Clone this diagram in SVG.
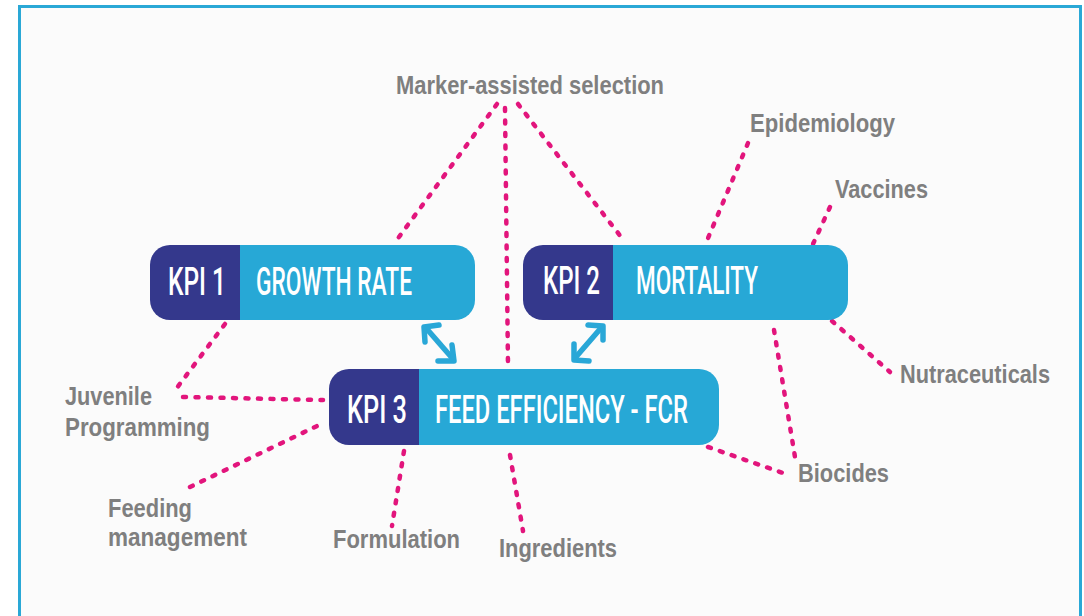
<svg xmlns="http://www.w3.org/2000/svg" width="1084" height="616" viewBox="0 0 1084 616">
<style>
.frame{fill:#fbfbfb;stroke:#2aa8d6;stroke-width:3}
.dark{fill:#34388c}
.light{fill:#27a8d6}
.kt{font-family:Roboto,"Liberation Sans",sans-serif;font-weight:500;font-size:39px;fill:#ffffff}
.lbl{font-family:"Liberation Sans",Arial,sans-serif;font-weight:bold;font-size:25px;fill:#7f7f7f}
.dot{fill:none;stroke:#e2157c;stroke-width:4.5;stroke-linecap:round;stroke-dasharray:3 9.5}
.arr{fill:none;stroke:#29a7d7;stroke-width:5.5;stroke-linecap:round;stroke-linejoin:round}
</style>
<rect x="0" y="0" width="1084" height="616" fill="#ffffff"/>
<rect class="frame" x="19.5" y="6.5" width="1061" height="620"/>

<g id="connectors">
  <line class="dot" x1="497" y1="104" x2="396" y2="241"/>
  <line class="dot" x1="505" y1="108" x2="508" y2="366"/>
  <line class="dot" x1="518" y1="104" x2="625" y2="242"/>
  <line class="dot" x1="748" y1="143" x2="706" y2="243"/>
  <line class="dot" x1="830" y1="207" x2="813" y2="244"/>
  <line class="dot" x1="832" y1="321" x2="890" y2="372"/>
  <line class="dot" x1="774" y1="330" x2="795" y2="457"/>
  <line class="dot" x1="708" y1="447" x2="783" y2="473"/>
  <line class="dot" x1="225" y1="324" x2="173" y2="393"/>
  <line class="dot" x1="183" y1="397" x2="323" y2="400"/>
  <line class="dot" x1="190" y1="487" x2="317" y2="426"/>
  <line class="dot" x1="404" y1="451" x2="392" y2="526"/>
  <line class="dot" x1="510" y1="455" x2="523" y2="531"/>
  <g id="arrow1">
    <line class="arr" x1="426" y1="328" x2="453" y2="359"/>
    <polyline class="arr" points="439,325 424,327 425,342"/>
    <polyline class="arr" points="438,361 454,361 452,345"/>
  </g>
  <g id="arrow2">
    <line class="arr" x1="601" y1="328" x2="575" y2="358"/>
    <polyline class="arr" points="588,325 603,326 603,340"/>
    <polyline class="arr" points="574,344 574,360 589,361"/>
  </g>
</g>

<g id="kpi1">
  <rect class="dark" x="150" y="245" width="110" height="75" rx="20"/>
  <path class="light" d="M240 245 H455 A20 20 0 0 1 475 265 V300 A20 20 0 0 1 455 320 H240 Z"/>
  <text class="kt" x="168" y="295" textLength="58" lengthAdjust="spacingAndGlyphs">KPI 1</text>
  <text class="kt" x="256" y="295" textLength="156" lengthAdjust="spacingAndGlyphs">GROWTH RATE</text>
</g>

<g id="kpi2">
  <rect class="dark" x="523" y="245" width="110" height="75" rx="20"/>
  <path class="light" d="M613 245 H828 A20 20 0 0 1 848 265 V300 A20 20 0 0 1 828 320 H613 Z"/>
  <text class="kt" x="543" y="294" textLength="57" lengthAdjust="spacingAndGlyphs">KPI 2</text>
  <text class="kt" x="636" y="294" textLength="122" lengthAdjust="spacingAndGlyphs">MORTALITY</text>
</g>

<g id="kpi3">
  <rect class="dark" x="329" y="369" width="110" height="76" rx="20"/>
  <path class="light" d="M419 369 H699 A20 20 0 0 1 719 389 V425 A20 20 0 0 1 699 445 H419 Z"/>
  <text class="kt" x="347" y="423" textLength="60" lengthAdjust="spacingAndGlyphs">KPI 3</text>
  <text class="kt" x="435" y="423" textLength="253" lengthAdjust="spacingAndGlyphs">FEED EFFICIENCY - FCR</text>
</g>

<g id="labels">
  <text class="lbl" x="396" y="94" textLength="268" lengthAdjust="spacingAndGlyphs">Marker-assisted selection</text>
  <text class="lbl" x="750" y="132" textLength="145" lengthAdjust="spacingAndGlyphs">Epidemiology</text>
  <text class="lbl" x="835" y="198" textLength="93" lengthAdjust="spacingAndGlyphs">Vaccines</text>
  <text class="lbl" x="900" y="383" textLength="150" lengthAdjust="spacingAndGlyphs">Nutraceuticals</text>
  <text class="lbl" x="798" y="482" textLength="91" lengthAdjust="spacingAndGlyphs">Biocides</text>
  <text class="lbl" x="65" y="405" textLength="87" lengthAdjust="spacingAndGlyphs">Juvenile</text>
  <text class="lbl" x="65" y="436" textLength="145" lengthAdjust="spacingAndGlyphs">Programming</text>
  <text class="lbl" x="108" y="517" textLength="84" lengthAdjust="spacingAndGlyphs">Feeding</text>
  <text class="lbl" x="108" y="546" textLength="139" lengthAdjust="spacingAndGlyphs">management</text>
  <text class="lbl" x="333" y="548" textLength="127" lengthAdjust="spacingAndGlyphs">Formulation</text>
  <text class="lbl" x="499" y="557" textLength="118" lengthAdjust="spacingAndGlyphs">Ingredients</text>
</g>
</svg>
